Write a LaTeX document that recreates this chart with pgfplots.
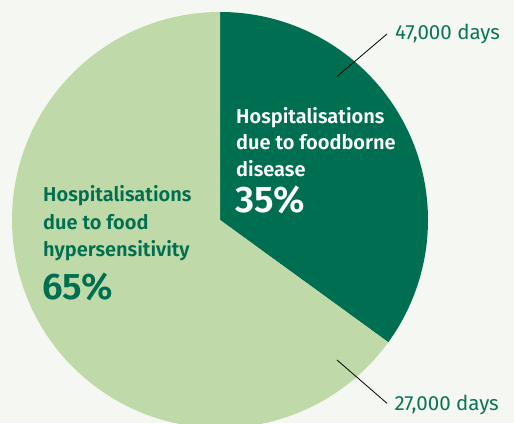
\documentclass[border=0pt]{standalone}
\usepackage{pgfplots}
\pgfplotsset{compat=1.18}
\usepackage{pgfplotstable}
\usepackage{fontspec}
\setmainfont{Fira Sans}[BoldFont={Fira Sans SemiBold}]

\definecolor{darkgr}{HTML}{006E50}
\definecolor{lightgr}{HTML}{BFD9A8}
\definecolor{bgc}{HTML}{F5F7F2}
\definecolor{txtgr}{HTML}{0B7457}

% share of hospitalisation days (percent)
\pgfplotstableread{
label  value
foodborne 35
hypersens 65
}\piedata

\begin{document}
\begin{tikzpicture}[
    lbl/.style={anchor=base west, inner sep=0pt, font=\bfseries\fontsize{20}{24}\selectfont},
    big/.style={anchor=base west, inner sep=0pt, font=\bfseries\fontsize{37}{40}\selectfont},
    days/.style={anchor=base west, inner sep=0pt, text=txtgr, font=\fontsize{20.5}{24}\selectfont},
]
\pgfplotstablegetelem{0}{value}\of\piedata \let\va\pgfplotsretval
\pgfplotstablegetelem{1}{value}\of\piedata \let\vb\pgfplotsretval
\pgfmathsetmacro{\angA}{90-3.6*\va}
\pgfmathsetmacro{\angB}{\angA-3.6*\vb}
\begin{axis}[
    scale only axis,
    width=514pt, height=423pt,
    xmin=0, xmax=514, ymin=0, ymax=423,
    axis lines=none,
    axis background/.style={fill=bgc},
    clip=true,
]
  % dark slice: foodborne disease
  \fill[darkgr] (axis cs:220,203) -- (axis cs:220,411)
      arc[start angle=90, end angle=\angA, radius=208pt] -- cycle;
  % light slice: food hypersensitivity
  \fill[lightgr] (axis cs:220,203) -- ++(\angA:208pt)
      arc[start angle=\angA, end angle=\angB, radius=208pt] -- cycle;

  % leader lines
  \draw[black, line width=0.8pt] (axis cs:337,346.5) -- (axis cs:387,389);
  \draw[black, line width=0.8pt] (axis cs:337,63) -- (axis cs:387,19.7);
  \node[days] at (axis cs:395,383) {47,000 days};
  \node[days] at (axis cs:394.3,12.3) {27,000 days};

  % slice labels
  \node[lbl, text=white] at (axis cs:236,299.5) {Hospitalisations};
  \node[lbl, text=white] at (axis cs:236,273) {due to foodborne};
  \node[lbl, text=white] at (axis cs:236,246.5) {disease};
  \node[big, text=white] at (axis cs:235,210) {35\%};

  \node[lbl, text=darkgr] at (axis cs:43,221) {Hospitalisations};
  \node[lbl, text=darkgr] at (axis cs:43,193.5) {due to food};
  \node[lbl, text=darkgr] at (axis cs:43,166) {hypersensitivity};
  \node[big, text=darkgr] at (axis cs:42,123) {65\%};
\end{axis}
\end{tikzpicture}
\end{document}
